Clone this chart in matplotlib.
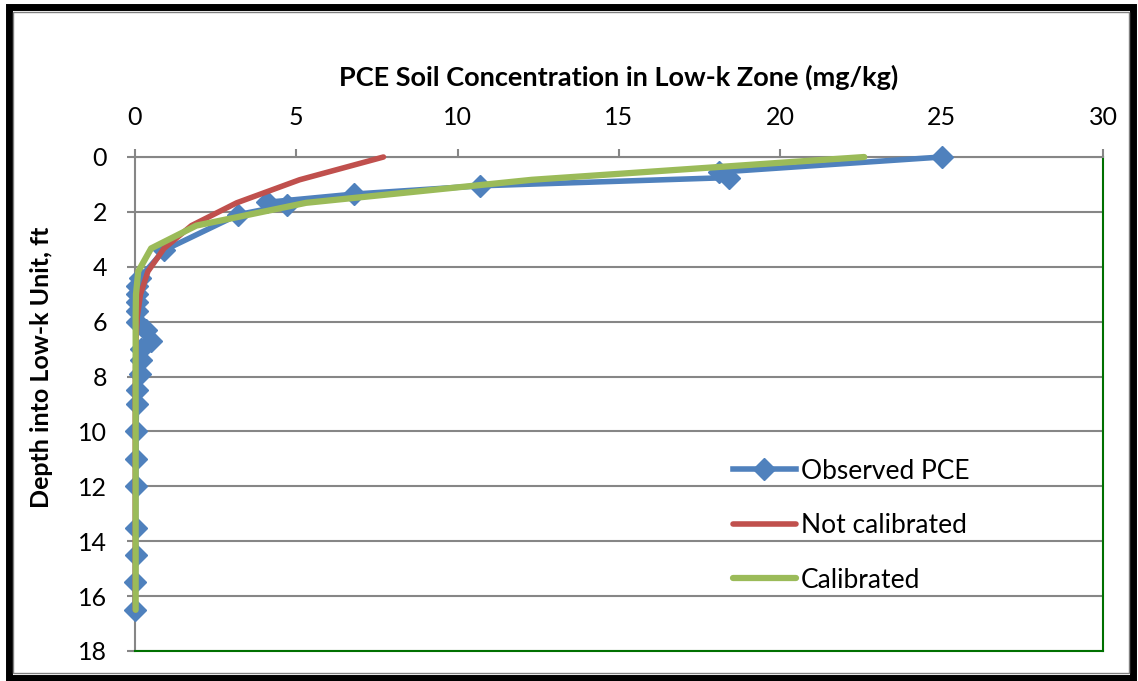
import matplotlib.pyplot as plt
from matplotlib.patches import Rectangle

# observed soil concentrations (mg/kg) vs depth (ft)
obs_depth = [0, 0.55, 0.75, 1.05, 1.35, 1.65, 1.75, 2.1, 3.4, 4.4, 4.7, 5.0, 5.3,
             5.6, 6.0, 6.3, 6.7, 7.0, 7.4, 7.9, 8.5, 9.0, 10.0, 11.0, 12.0, 13.5,
             14.5, 15.5, 16.5]
obs_conc = [25.0, 18.1, 18.4, 10.7, 6.8, 4.1, 4.7, 3.2, 0.9, 0.15, 0.05, 0.05, 0.05,
            0.05, 0.05, 0.35, 0.5, 0.2, 0.2, 0.15, 0.05, 0.05, 0.03, 0.03, 0.02, 0.02,
            0.02, 0.01, 0.0]

# model results
model_depth = [0, 0.83, 1.67, 2.5, 3.33, 4.17, 5.0, 5.83, 6.67, 7.5, 8.33, 9.17, 10.0,
               10.83, 11.67, 12.5, 13.33, 14.17, 15.0, 15.83, 16.5]
nocal_conc = [7.7, 5.1, 3.15, 1.75, 0.9, 0.4, 0.17, 0.07, 0.03, 0.02, 0.01, 0.01, 0.01,
              0.01, 0.01, 0.01, 0.01, 0.01, 0.01, 0.01, 0.01]
cal_conc = [22.6, 12.3, 5.3, 1.9, 0.5, 0.1, 0.03, 0.02, 0.02, 0.02, 0.02, 0.02, 0.02,
            0.02, 0.02, 0.02, 0.02, 0.02, 0.02, 0.02, 0.02]

x_ticks = [0, 5, 10, 15, 20, 25, 30]
y_ticks = [0, 2, 4, 6, 8, 10, 12, 14, 16, 18]

plt.rcParams['font.family'] = ['Lato', 'DejaVu Sans']

W, H = 1138, 681
fig = plt.figure(figsize=(W / 100, H / 100), dpi=100)
ax = fig.add_axes([135 / W, 1 - 651 / H, (1103 - 135) / W, (651 - 157) / H])

ax.plot(obs_conc, obs_depth, color='#4F81BD', lw=4, marker='D', ms=11,
        label='Observed PCE', clip_on=False, zorder=3)
ax.plot(nocal_conc, model_depth, color='#C0504D', lw=4, label='Not calibrated',
        clip_on=False, zorder=4, solid_capstyle='round')
ax.plot(cal_conc, model_depth, color='#9BBB59', lw=4.5, label='Calibrated',
        clip_on=False, zorder=5, solid_capstyle='round')

ax.set_xlim(0, 30)
ax.set_ylim(18, 0)
ax.set_xticks(x_ticks)
ax.set_yticks(y_ticks)
ax.xaxis.tick_top()
ax.xaxis.set_label_position('top')
ax.tick_params(axis='both', direction='out', length=6, width=1.5, color='#868686',
               labelsize=18, pad=14)
ax.yaxis.grid(True, color='#868686', lw=1.5)
ax.set_axisbelow(True)

for s in ['left', 'top']:
    ax.spines[s].set_color('#868686')
    ax.spines[s].set_linewidth(1.5)
for s in ['right', 'bottom']:
    ax.spines[s].set_color('#007000')
    ax.spines[s].set_linewidth(1.5)

ax.set_xlabel('PCE Soil Concentration in Low-k Zone (mg/kg)', fontsize=19.5,
              fontweight='bold', labelpad=15)
ax.set_ylabel('Depth into Low-k Unit, ft', fontsize=18, fontweight='bold')
ax.yaxis.set_label_coords(-0.085, 0.575)

ax.legend(loc='upper left', bbox_to_anchor=((722 - 135) / (1103 - 135), (651 - 448) / (651 - 157)),
          frameon=False, fontsize=19, handlelength=2.4, handletextpad=0.2,
          labelspacing=1.12, borderaxespad=0)

# picture frame
fig.patches.append(Rectangle((9 / W, 3 / H), (W - 14) / W, (H - 10) / H,
                             transform=fig.transFigure, fill=False,
                             edgecolor='black', lw=5, zorder=0))
fig.patches.append(Rectangle((13 / W, 8 / H), (W - 22) / W, (H - 20) / H,
                             transform=fig.transFigure, fill=False,
                             edgecolor='#808080', lw=1, zorder=0))

fig.savefig('out.png', dpi=100)
